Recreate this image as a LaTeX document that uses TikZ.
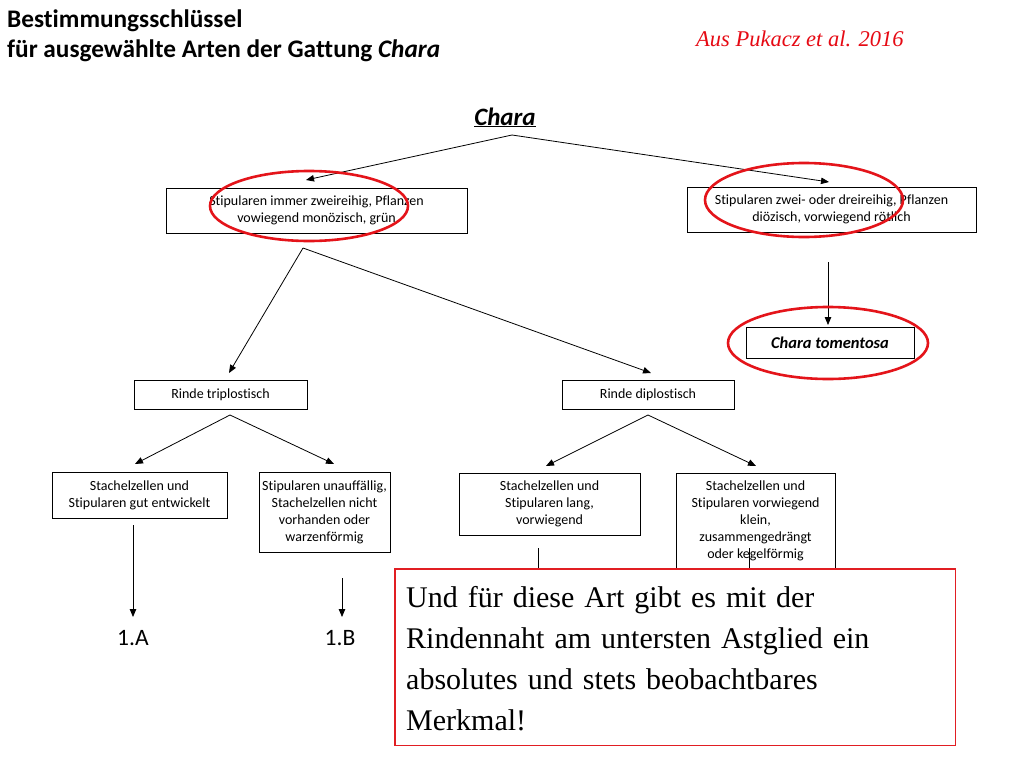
\documentclass[tikz,border=0pt]{standalone}
\usepackage{fontspec}
\setmainfont[Ligatures=NoCommon]{Carlito}
\newfontfamily\tnr{Liberation Serif}
\usetikzlibrary{arrows.meta}
\definecolor{ellred}{RGB}{228,20,26}
\definecolor{refred}{RGB}{230,10,20}
\definecolor{noteborder}{RGB}{225,30,35}
\begin{document}
\begin{tikzpicture}[x=1pt,y=-1pt,
  keybox/.style={draw,line width=0.8pt,inner sep=0pt,align=center,fill=white,
    font=\fontsize{14}{17}\selectfont},
  conn/.style={line width=0.8pt},
  arr/.style={conn,-{Triangle[length=8pt,width=6.5pt]}},
  oval/.style={draw=ellred,line width=2.6pt}
]
\useasboundingbox (0,0) rectangle (1024,768);
\fill[white] (0,0) rectangle (1024,768);

% titles
\node[anchor=base west,inner sep=0pt,font=\fontsize{25.3}{29}\selectfont\bfseries] (t1) at (7,28) {Bestimmungsschlüssel};
\node[anchor=base west,inner sep=0pt,font=\fontsize{25.3}{29}\selectfont\bfseries] (t2) at (7,57) {für ausgewählte Arten der Gattung \textit{Chara}};
\node[anchor=base west,inner sep=0pt,text=refred,font=\tnr\itshape\fontsize{22.5}{26}\selectfont] (src) at (696,47) {Aus Pukacz et al. 2016};
\node[anchor=base,inner sep=0pt,font=\fontsize{25}{29}\selectfont\bfseries\itshape] (chara) at (505,125) {\underline{Chara}};

% boxes
\node[keybox,minimum width=301pt,minimum height=45pt] (b1) at (316.5,210.5) {Stipularen immer zweireihig, Pflanzen\\vowiegend monözisch, grün};
\node[keybox,minimum width=289pt,minimum height=45pt] (b2) at (831.5,209.5) {Stipularen zwei- oder dreireihig, Pflanzen\\diözisch, vorwiegend rötlich};
\node[keybox,minimum width=168pt,minimum height=31pt,font=\fontsize{16.5}{19}\selectfont\bfseries\itshape] (ct) at (830,342.5) {Chara tomentosa};
\node[keybox,minimum width=173pt,minimum height=29pt] (rt) at (220.5,394.5) {Rinde triplostisch};
\node[keybox,minimum width=172pt,minimum height=29pt] (rd) at (648,394.5) {Rinde diplostisch};
\node[keybox,minimum width=175pt,minimum height=46pt] (s1) at (139.5,495) {Stachelzellen und\\Stipularen gut entwickelt};
\node[keybox,minimum width=131pt,minimum height=80pt] (s2) at (324.5,512) {Stipularen unauffällig,\\Stachelzellen nicht\\vorhanden oder\\warzenförmig};
\node[keybox,minimum width=181pt,minimum height=62pt] (s3) at (549.5,504) {Stachelzellen und\\Stipularen lang,\\vorwiegend};
\node[keybox,minimum width=159pt,minimum height=96pt] (s4) at (755.5,521) {Stachelzellen und\\Stipularen vorwiegend\\klein,\\zusammengedrängt\\oder kegelförmig};

% coordinates for connector ends
\coordinate (c0) at (512,135);
\coordinate (c0l) at (306,180);
\coordinate (c0r) at (829,182);
\coordinate (c2a) at (828,262);
\coordinate (c2b) at (828,325);
\coordinate (c1) at (303,248);
\coordinate (c1l) at (229,373);
\coordinate (c1r) at (651,373);
\coordinate (c3) at (230,415);
\coordinate (c3l) at (135,464);
\coordinate (c3r) at (334,464);
\coordinate (c4) at (648,415);
\coordinate (c4l) at (546,466);
\coordinate (c4r) at (756,466);
\coordinate (c5a) at (133,525);
\coordinate (c5b) at (133,617);
\coordinate (c6a) at (342,578);
\coordinate (c6b) at (342,617);
\coordinate (c7a) at (538,548);
\coordinate (c7b) at (538,572);
\coordinate (c8a) at (749,548);
\coordinate (c8b) at (749,572);

% connectors
\draw[arr] (c0) -- (c0l);
\draw[arr] (c0) -- (c0r);
\draw[arr] (c2a) -- (c2b);
\draw[arr] (c1) -- (c1l);
\draw[arr] (c1) -- (c1r);
\draw[arr] (c3) -- (c3l);
\draw[arr] (c3) -- (c3r);
\draw[arr] (c4) -- (c4l);
\draw[arr] (c4) -- (c4r);
\draw[arr] (c5a) -- (c5b);
\draw[arr] (c6a) -- (c6b);
\draw[conn] (c7a) -- (c7b);
\draw[conn] (c8a) -- (c8b);

% leaves
\node[inner sep=0pt,font=\fontsize{23.5}{28}\selectfont] (la) at (133,638) {1.A};
\node[inner sep=0pt,font=\fontsize{23.5}{28}\selectfont] (lb) at (340,638) {1.B};

% red ellipses
\draw[oval] (309,206) ellipse [x radius=99pt,y radius=35pt];
\draw[oval] (804,200) ellipse [x radius=99pt,y radius=37pt];
\draw[oval] (828,343) ellipse [x radius=100pt,y radius=36pt];

% note box
\node[fill=white,anchor=north west,inner sep=0pt,
  minimum width=560pt,minimum height=176pt] (note) at (395,569) {};
\draw[color=noteborder,line width=1.8pt] (note.north west) rectangle (note.south east);
\node[anchor=base west,inner sep=0pt,align=left,text width=545pt,
  font=\tnr\fontsize{30}{41}\selectfont] (notetext) at (406,607)
  {Und für diese Art gibt es mit der\\Rindennaht am untersten Astglied ein\\absolutes und stets beobachtbares\\Merkmal!};
\end{tikzpicture}
\end{document}
